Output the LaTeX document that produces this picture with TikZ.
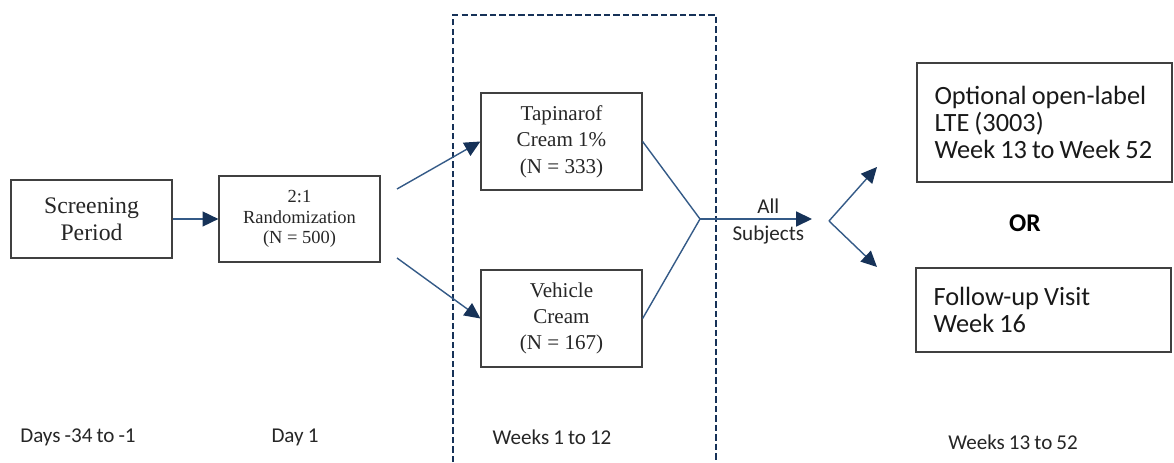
\documentclass[tikz,border=0pt]{standalone}
\usepackage{fontspec}
\setmainfont{Liberation Serif}
\newfontfamily\calibri[WordSpace=0.85]{Carlito}
\usepackage{xcolor}
\usepackage{tikz}
\usetikzlibrary{arrows.meta, positioning}
\definecolor{studynavy}{RGB}{22,50,88}
\definecolor{studyline}{RGB}{52,90,135}

\begin{document}
\begin{tikzpicture}[
  box/.style={rectangle, draw=black!75, line width=0.7pt, minimum width=3.22cm, align=center, text=black!85},
  rbox/.style={rectangle, draw=black!75, line width=0.7pt, minimum width=5.06cm, align=flush left, text=black!90, font=\calibri\fontsize{15}{15.4}\selectfont, text width=4.4cm, inner xsep=0.35cm},
  arr/.style={studyline, line width=0.8pt, -{Triangle[length=9pt, width=8.5pt, color=studynavy]}},
  lnk/.style={studyline, line width=0.8pt},
  per/.style={font=\calibri\fontsize{12}{14}\selectfont, text=black!85},
  window/.style={studynavy, line width=1.4pt, dash pattern=on 3.6pt off 1.8pt}
]
\useasboundingbox (0,0) rectangle (23.48,9.24);

% treatment window
\draw[window] (9.06,0) |- (14.32,8.94) -- (14.32,0);

\node[box, minimum height=1.56cm, font=\fontsize{13.5}{15.5}\selectfont] (scr) at (1.83,4.86) {Screening\\Period};
\node[box, minimum height=1.72cm, font=\fontsize{10.5}{11.8}\selectfont] (rnd) at (5.99,4.86) {2:1\\Randomization\\(N = 500)};
\node[box, minimum height=1.94cm, font=\fontsize{12}{15}\selectfont] (tap) at (11.23,6.41) {Tapinarof\\Cream 1\%\\(N = 333)};
\node[box, minimum height=1.94cm, font=\fontsize{12}{15}\selectfont] (veh) at (11.23,2.87) {Vehicle\\Cream\\(N = 167)};
\node[rbox, minimum height=2.38cm] (lte) at (20.89,6.79) {Optional open-label\\LTE (3003)\\Week 13 to Week 52};
\node[rbox, minimum height=1.68cm] (fup) at (20.87,3.04) {Follow-up Visit\\Week 16};
\node[font=\calibri\bfseries\fontsize{14.5}{16}\selectfont] (or) at (20.5,4.78) {OR};

\coordinate (splitT) at (7.94,5.46);
\coordinate (splitV) at (7.94,4.08);
\coordinate (join) at (14.0,4.86);
\coordinate (allend) at (16.24,4.86);
\coordinate (fork) at (16.58,4.82);
\coordinate (forkT) at (17.54,5.9);
\coordinate (forkF) at (17.54,3.9);

\draw[arr] (scr) -- (rnd);
\draw[arr] (splitT) -- (tap.west);
\draw[arr] (splitV) -- (veh.west);
\draw[lnk] (tap.east) -- (join) -- (veh.east);
\draw[arr] (join) -- node[pos=0.61, above, inner sep=2.5pt, per] {All}
  node[pos=0.61, below, inner sep=3.5pt, per] {Subjects} (allend);
\draw[arr] (fork) -- (forkT);
\draw[arr] (fork) -- (forkF);

\node[per] (p1) at (1.56,0.5) {Days -34 to -1};
\node[per] (p2) at (5.9,0.5) {Day 1};
\node[per] (p3) at (11.04,0.5) {Weeks 1 to 12};
\node[per] (p4) at (20.26,0.4) {Weeks 13 to 52};
\end{tikzpicture}
\end{document}
